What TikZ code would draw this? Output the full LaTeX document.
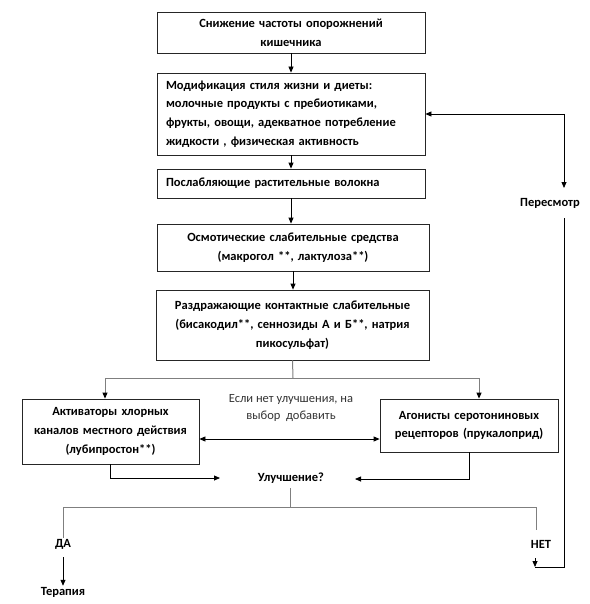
\documentclass[tikz,border=0pt]{standalone}
\usepackage{fontspec}
\setmainfont{Carlito}
\usetikzlibrary{arrows.meta,calc}
\definecolor{lgray}{HTML}{7F7F7F}
\tikzset{
  box/.style={draw=black!85, line width=0.8pt, font=\fontsize{12.5}{18.7}\selectfont\bfseries, inner sep=0pt, align=center},
  arr/.style={draw=black, line width=0.8pt, -{Triangle[length=6pt,width=5pt]}},
  garr/.style={draw=lgray, line width=1pt, -{Triangle[length=6pt,width=5pt,color=black]}},
  gline/.style={draw=lgray, line width=1pt},
  bline/.style={draw=black, line width=0.8pt},
  lbl/.style={font=\fontsize{12.5}{18.7}\selectfont\bfseries, inner sep=1pt},
  note/.style={font=\fontsize{12.5}{17.5}\selectfont, text=black!80, align=center, inner sep=0pt}
}
\begin{document}
\begin{tikzpicture}[x=1pt,y=-1pt]
\useasboundingbox (0,0) rectangle (589,604);
\node[box, minimum width=268pt, minimum height=41pt, text width=250pt] (b1) at (291,32.5) {Снижение частоты опорожнений\\кишечника};
\node[box, minimum width=268pt, minimum height=82pt, text width=250pt, align=left] (b2) at (291,114) {Модификация стиля жизни и диеты:\\молочные продукты с пребиотиками,\\фрукты, овощи, адекватное потребление\\жидкости , физическая активность};
\node[box, minimum width=268pt, minimum height=29pt, text width=250pt, align=left] (b3) at (291,183.5) {Послабляющие растительные волокна};
\node[box, minimum width=272pt, minimum height=47pt, text width=260pt] (b4) at (293,247.5) {Осмотические слабительные средства\\(макрогол **, лактулоза**)};
\node[box, minimum width=273pt, minimum height=70pt, text width=260pt] (b5) at (292.5,325) {Раздражающие контактные слабительные\\(бисакодил**, сеннозиды А и Б**, натрия\\пикосульфат)};
\node[box, minimum width=177pt, minimum height=65pt, text width=170pt] (b6) at (110.5,431.5) {Активаторы хлорных\\каналов местного действия\\(лубипростон**)};
\node[box, minimum width=178pt, minimum height=53pt, text width=170pt] (b7) at (469,425.5) {Агонисты серотониновых\\рецепторов (прукалоприд)};
\node[note] (n1) at (291,408) {Если нет улучшения, на\\выбор\ \ добавить};
\node[lbl] (u) at (291,478) {Улучшение?};
\node[lbl] (per) at (550,203) {Пересмотр};
\node[lbl] (da) at (63,544) {ДА};
\node[lbl] (net) at (541,544) {НЕТ};
\node[lbl] (ter) at (63,592) {Терапия};
\coordinate (uL) at (220,478);
\coordinate (uR) at (355,479);
\coordinate (rTop) at (564,114);
\coordinate (rPer) at (564,188);
\coordinate (rPerB) at (564,218);
\coordinate (rBot) at (564,567);
\coordinate (nBot) at (535,567);
% main chain
\draw[arr] (b1.south) -- (b2.north);
\draw[arr] (b2.south) -- (b3.north);
\draw[arr] (b3.south) -- (b3.south |- b4.north);
\draw[arr] (b4.south) -- (b4.south |- b5.north);
% branch
\draw[gline] (b5.south) -- (293,378);
\draw[garr] (293,378) -- (105,378) -- (105,378 |- b6.north);
\draw[garr] (293,378) -- (479,378) -- (479,378 |- b7.north);
% double arrow
\draw[arr, {Triangle[length=6pt,width=5pt]}-{Triangle[length=6pt,width=5pt]}] (b6.east |- 0,439) -- (b7.west |- 0,439);
% into Улучшение
\draw[arr] (110,0 |- b6.south) -- (110,478) -- (uL);
\draw[arr] (469,0 |- b7.south) -- (469,479) -- (uR);
% bottom branch
\draw[gline] (290,488) -- (290,507) -- (63,507) -- (da.north);
\draw[gline] (290,507) -- (536,507) -- (536,530);
\draw[arr] (63,557) -- (ter.north);
% right loop
\draw[arr] (535,558) -- (nBot);
\draw[bline] (nBot) -- (rBot) -- (rPerB);
\draw[arr] (rTop) -- (b2.east);
\draw[arr] (rTop) -- (rPer);
\end{tikzpicture}
\end{document}
